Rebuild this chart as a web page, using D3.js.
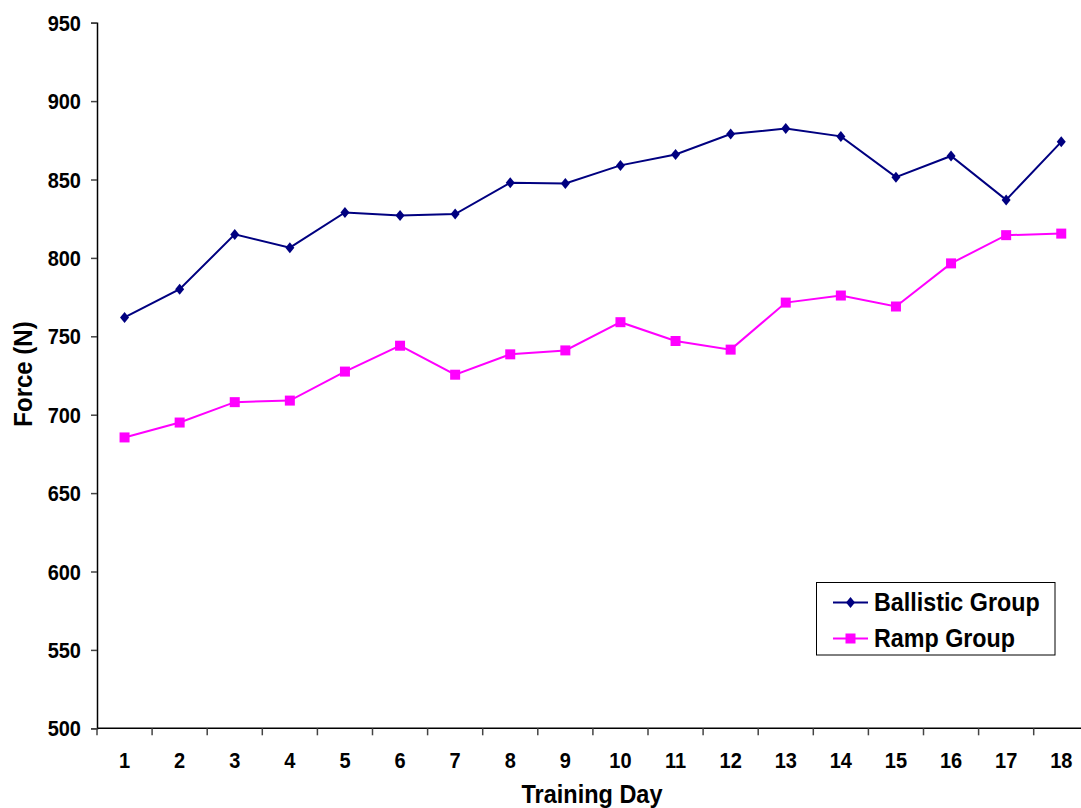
<!DOCTYPE html>
<html>
<head>
<meta charset="utf-8">
<script src="https://cdn.jsdelivr.net/npm/d3@7"></script>
<style>
  body { margin: 0; background: #fff; }
  svg { display: block; font-family: Arial, "Liberation Sans", sans-serif; font-weight: bold; }
</style>
</head>
<body>
<svg id="chart" width="1081" height="808"></svg>
<script>
// training days and the two group means (N)
const days = d3.range(1, 19).map(String);
const ballistic = [762, 780, 815, 806.5, 829, 827, 828, 848, 847.5, 859, 866, 879, 882.5, 877.5, 851.5, 865, 837, 874];
const ramp = [685.5, 695, 708, 709, 727.5, 744, 725.5, 738.5, 741, 759, 747, 741.5, 771.5, 776, 769, 796.5, 814.5, 815.5];
const yTicks = [500, 550, 600, 650, 700, 750, 800, 850, 900, 950];

const svg = d3.select("#chart");
const plotLeft = 97, plotTop = 22.7, plotBottom = 728.3, step = 55.1;

const x = d3.scaleBand().domain(days).range([plotLeft, plotLeft + step * days.length]).padding(0);
const y = d3.scaleLinear().domain([500, 950]).range([plotBottom, plotTop]);
const cx = d => x(d) + x.bandwidth() / 2;

// y axis
const gy = svg.append("g").attr("transform", "translate(" + plotLeft + ",0)")
  .call(d3.axisLeft(y).tickValues(yTicks).tickSize(6).tickPadding(10));
gy.select(".domain").attr("stroke", "#000").attr("stroke-width", 1.5);
gy.selectAll(".tick line").attr("stroke", "#444").attr("stroke-width", 1.5);
gy.selectAll("text").attr("font-size", 20).attr("fill", "#000")
  .attr("x", null).attr("dy", null)
  .attr("transform", "translate(-16,7.5) scale(1,1.1)");

// x axis (labels centred in the bands, ticks between them like Excel)
const gx = svg.append("g").attr("transform", "translate(0," + plotBottom + ")")
  .call(d3.axisBottom(x).tickSize(0).tickPadding(0));
gx.select(".domain").remove();
svg.append("line").attr("x1", plotLeft).attr("x2", 1081).attr("y1", plotBottom).attr("y2", plotBottom)
  .attr("stroke", "#000").attr("stroke-width", 1.5);
gx.selectAll("text").attr("font-size", 20).attr("fill", "#000")
  .attr("dy", null).attr("y", null)
  .attr("transform", "translate(0,40) scale(1,1.1)");
svg.append("g").selectAll("line").data(days).enter().append("line")
  .attr("x1", d => x(d)).attr("x2", d => x(d))
  .attr("y1", plotBottom).attr("y2", plotBottom + 7)
  .attr("stroke", "#444").attr("stroke-width", 1.5);

// axis titles
svg.append("text").attr("transform", "translate(592,803) scale(1,1.1)").attr("text-anchor", "middle")
  .attr("font-size", 23.5).text("Training Day");
svg.append("text").attr("transform", "translate(32,374) rotate(-90) scale(1,1.1)").attr("text-anchor", "middle")
  .attr("font-size", 24).text("Force (N)");

// series
const line = d3.line().x((d, i) => cx(days[i])).y(d => y(d));

svg.append("path").datum(ballistic).attr("d", line)
  .attr("fill", "none").attr("stroke", "#000080").attr("stroke-width", 2);
svg.append("path").datum(ramp).attr("d", line)
  .attr("fill", "none").attr("stroke", "#FF00FF").attr("stroke-width", 2);

svg.append("g").selectAll("path").data(ballistic).enter().append("path")
  .attr("d", "M0,-5.5L4.5,0L0,5.5L-4.5,0Z")
  .attr("transform", (d, i) => "translate(" + cx(days[i]) + "," + y(d) + ")")
  .attr("fill", "#000080");
svg.append("g").selectAll("rect").data(ramp).enter().append("rect")
  .attr("x", (d, i) => cx(days[i]) - 5).attr("y", d => y(d) - 5)
  .attr("width", 10).attr("height", 10).attr("fill", "#FF00FF");

// legend
const lg = svg.append("g");
lg.append("rect").attr("x", 816.5).attr("y", 582.5).attr("width", 238.5).attr("height", 72.5)
  .attr("fill", "#fff").attr("stroke", "#000").attr("stroke-width", 1);
const items = [
  { name: "Ballistic Group", color: "#000080", y: 602.5, mark: "diamond" },
  { name: "Ramp Group", color: "#FF00FF", y: 638.5, mark: "square" }
];
items.forEach(it => {
  lg.append("line").attr("x1", 833).attr("x2", 868).attr("y1", it.y).attr("y2", it.y)
    .attr("stroke", it.color).attr("stroke-width", 2);
  if (it.mark === "diamond") {
    lg.append("path").attr("d", "M0,-5.5L4.5,0L0,5.5L-4.5,0Z")
      .attr("transform", "translate(850.5," + it.y + ")").attr("fill", it.color);
  } else {
    lg.append("rect").attr("x", 845.5).attr("y", it.y - 5).attr("width", 10).attr("height", 10)
      .attr("fill", it.color);
  }
  lg.append("text").attr("transform", "translate(874," + (it.y + 8.5) + ") scale(1,1.1)")
    .attr("font-size", 23.3).text(it.name);
});
</script>
</body>
</html>
